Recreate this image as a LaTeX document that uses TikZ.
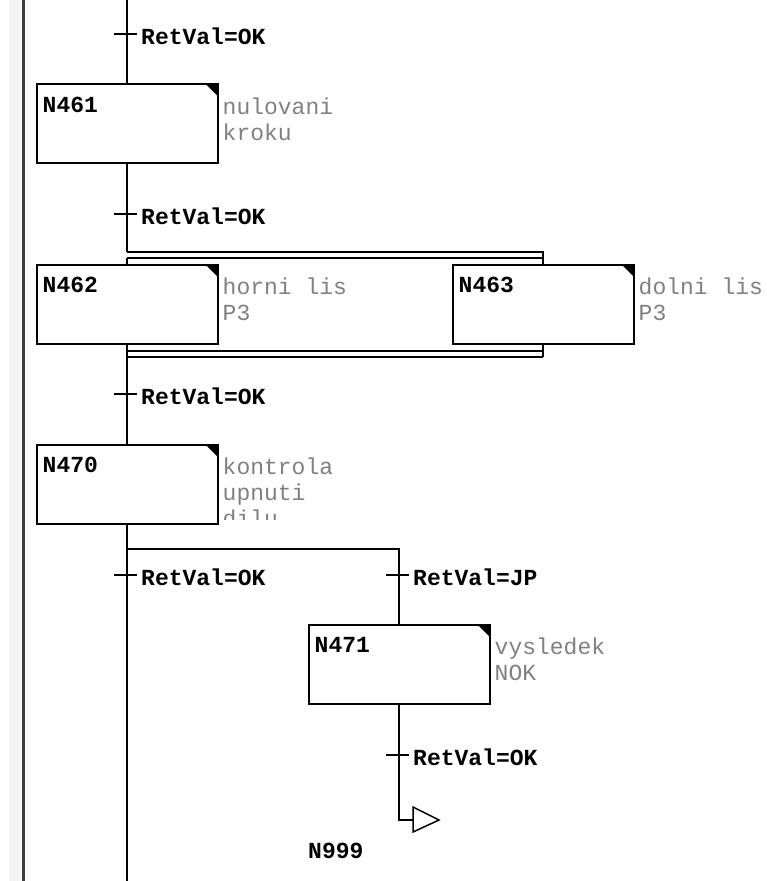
\documentclass[tikz,border=0pt]{standalone}
\usepackage{fontspec}
\setmonofont{Liberation Mono}
\usetikzlibrary{calc,positioning}
\definecolor{cmtgray}{RGB}{128,128,128}
\tikzset{
  wire/.style={line width=2pt},
  tick/.style={line width=1.5pt},
  stepbox/.style={draw,line width=2pt,fill=white,minimum width=181pt,minimum height=79pt,inner sep=0pt,outer sep=0pt},
  stepname/.style={font=\ttfamily\bfseries\fontsize{23}{26}\selectfont,anchor=base west,inner sep=0pt},
  cond/.style={font=\ttfamily\bfseries\fontsize{23}{26}\selectfont,anchor=base west,inner sep=0pt},
  cmt/.style={font=\ttfamily\fontsize{23}{26}\selectfont,text=cmtgray,anchor=base west,inner sep=0pt},
  jump/.style={line width=1.5pt,fill=white},
}

\begin{document}
\begin{tikzpicture}[x=1pt,y=-1pt]
    \useasboundingbox (0,0) rectangle (767,881);
    % ---- editor margin ----
    \fill[gray!10] (9,0) rectangle (20,881);
    \draw[line width=3pt,black!75] (23,0) -- (23,881);
    % ---- steps ----
    \node[stepbox] (s461) at (127,123.5) {};
    \node[stepbox] (s462) at (127,304) {};
    \node[stepbox] (s463) at (543,304) {};
    \node[stepbox] (s470) at (127,484) {};
    \node[stepbox] (s471) at (399,664) {};
    \foreach \s in {s461,s462,s463,s470,s471}
      \fill (\s.north east) -- ++(-12,0) -- ++(12,12) -- cycle;
    \node[stepname] (n461) at ($(s461.north west)+(6,28)$) {N461};
    \node[stepname] (n462) at ($(s462.north west)+(6,28)$) {N462};
    \node[stepname] (n463) at ($(s463.north west)+(6,28)$) {N463};
    \node[stepname] (n470) at ($(s470.north west)+(6,28)$) {N470};
    \node[stepname] (n471) at ($(s471.north west)+(6,28)$) {N471};
    % comments right of the steps
    \node[cmt] (c461a) at ($(s461.north east)+(5,30)$) {nulovani};
    \node[cmt] (c461b) at ($(c461a.base west)+(0,26)$) {kroku};
    \node[cmt] (c462a) at ($(s462.north east)+(5,30)$) {horni lis};
    \node[cmt] (c462b) at ($(c462a.base west)+(0,26)$) {P3};
    \node[cmt] (c463a) at ($(s463.north east)+(5,30)$) {dolni lis};
    \node[cmt] (c463b) at ($(c463a.base west)+(0,26)$) {P3};
    \node[cmt] (c470a) at ($(s470.north east)+(5,30)$) {kontrola};
    \node[cmt] (c470b) at ($(c470a.base west)+(0,26)$) {upnuti};
    \begin{scope}
      \clip ($(s470.south east)+(1,-20)$) rectangle ($(s470.south east)+(120,-4)$);
      \node[cmt] (c470c) at ($(c470b.base west)+(0,26)$) {dilu};
    \end{scope}
    \node[cmt] (c471a) at ($(s471.north east)+(5,30)$) {vysledek};
    \node[cmt] (c471b) at ($(c471a.base west)+(0,26)$) {NOK};
    % ---- main line and the simultaneous branch ----
    \coordinate (top) at (127,0);
    \coordinate (bot) at (127,881);
    \coordinate (simA) at (127,252);
    \coordinate (simB) at (127,258);
    \coordinate (simC) at (127,351);
    \coordinate (simD) at (127,357);
    \draw[wire] (top) -- (s461.north);
    \draw[wire] (s461.south) -- (simA);
    \draw[wire] (simA) -- (simA -| s463) -- (s463.north);
    \draw[wire] (simB) -- (simB -| s463);
    \draw[wire] (simB) -- (s462.north);
    \draw[wire] (s462.south) -- (simD);
    \draw[wire] (s463.south) -- (simD -| s463);
    \draw[wire] (simC) -- (simC -| s463);
    \draw[wire] (simD) -- (simD -| s463);
    \draw[wire] (simD) -- (s470.north);
    \draw[wire] (s470.south) -- (bot);
    % ---- alternative branch to N471 and the jump ----
    \coordinate (alt) at (127,549);
    \coordinate (jmp) at (399,820);
    \draw[wire] (alt) -- (alt -| s471) -- (s471.north);
    \draw[wire] (s471.south) -- (jmp) -- ++(14,0);
    \draw[jump] ($(jmp)+(14,-13)$) -- ($(jmp)+(40,0)$) -- ($(jmp)+(14,12)$) -- cycle;
    \node[stepname] (n999) at (308,858) {N999};
    % ---- transitions ----
    \foreach \tx/\ty/\tv [count=\i] in {127/34/OK,127/214/OK,127/394/OK,127/575/OK,399/575/JP,399/755/OK} {
      \draw[tick] (\tx-13,\ty) -- (\tx+10,\ty);
      \node[cond] (t\i) at (\tx+14,\ty+10) {RetVal=\tv};
    }
  \end{tikzpicture}
\end{document}
